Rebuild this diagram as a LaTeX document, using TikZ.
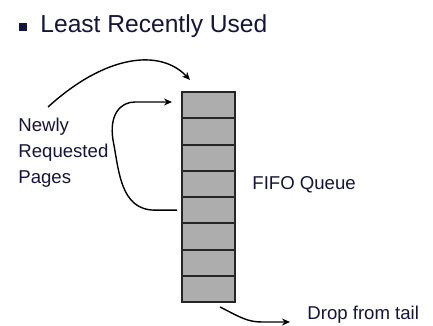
\documentclass[tikz,border=0pt]{standalone}
\usepackage{fontspec}
\setmainfont{Liberation Sans}
\usetikzlibrary{arrows.meta}
\definecolor{cellgray}{HTML}{ADADAD}
\definecolor{ink}{HTML}{14143C}
\tikzset{cell/.style={draw=black!85,line width=1pt,fill=cellgray,
   minimum width=26.5pt,minimum height=13.125pt,inner sep=0pt},
 lbl/.style={text=ink,inner sep=0pt,font=\fontsize{9.3}{12.9}\selectfont},
 arr/.style={line width=0.7pt,-{Stealth[length=4pt,width=3.5pt]}},
 }

\begin{document}
\begin{tikzpicture}[x=0.5pt,y=-0.5pt]
    \useasboundingbox (0,0) rectangle (433,326);
    % heading
    \node[fill=ink,minimum size=4pt,inner sep=0pt] (bullet) at (22.5,27.5) {};
    \node[text=ink,anchor=base west,inner sep=0pt,font=\fontsize{12.3}{15}\selectfont] (title) at (40,33) {Least Recently Used};
    % the queue
    \foreach \i in {1,...,8}
        \node[cell] (c\i) at (208.5,{92+26.25*(\i-0.5)}) {};
    \node[lbl,anchor=north west,align=left] (newpages) at (18,118) {Newly\\Requested\\Pages};
    \node[lbl,anchor=base west] (fifo) at (252,189) {FIFO Queue};
    \node[lbl,anchor=base west] (drop) at (307,319) {Drop from tail};
    % arrows
    \coordinate (src) at (48,107);
    \coordinate (head) at (190,80);
    \coordinate (front) at (172,102);
    \coordinate (tailend) at (290,322);
    \draw[arr] (src) .. controls (105,55) and (160,48) .. (head);
    \draw[arr] ([xshift=-2pt]c5.west) -- ++(-22,0) .. controls +(-35,0) and +(6,30) .. (113,140)
        .. controls +(-4,-25) and +(-15,0) .. (135,102) -- (front);
    \draw[arr] ([xshift=-8pt,yshift=-2pt]c8.south east) .. controls +(20,10) and +(-15,0) .. (262,322) -- (tailend);
\end{tikzpicture}
\end{document}
